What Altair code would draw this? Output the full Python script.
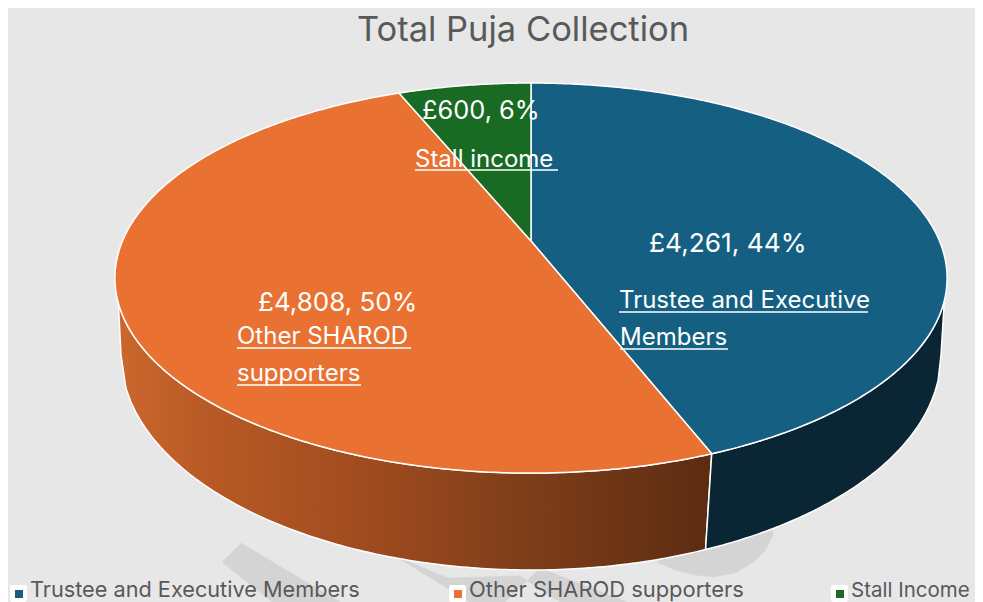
import math
import altair as alt
import pandas as pd

# ---- chart values
categories = ["Trustee and Executive Members", "Other SHAROD supporters", "Stall Income"]
values = [4261, 4808, 600]
colors = ["#156082", "#E97132", "#196B24"]
title_text = "Total Puja Collection"
value_labels = ["£4,261, 44%", "£4,808, 50%", "£600, 6%"]

# ---- pie layout (screen pixels via the fixed scales)
CX, CY = 531, 241        # apex of the tilted pie
A, B, K = 408.5, 188, 0.19
BOT_CY, BOT_A, BOT_B = 355, 410, 215
WALL_TOP_Y = 300

total = sum(values)
cum = [0]
for v in values:
    cum.append(cum[-1] + v)
bounds = [360 * c / total for c in cum]


def top_pt(deg):
    t = math.radians(deg)
    u, v = math.sin(t), -math.cos(t)
    d = 1 - K * v
    return CX + A * u / d, CY + B * v / d


def bot_y(x):
    f = max(0.0, 1 - ((x - CX) / BOT_A) ** 2)
    return BOT_CY + BOT_B * math.sqrt(f)


def arc(a0, a1, step=1.0):
    n = max(2, int(abs(a1 - a0) / step))
    return [top_pt(a0 + (a1 - a0) * i / n) for i in range(n + 1)]


def frame(points):
    return pd.DataFrame({"x": [p[0] for p in points], "y": [p[1] for p in points],
                         "i": list(range(len(points)))})


XS = alt.Scale(domain=[8, 975], range=[0, 967])
YS = alt.Scale(domain=[602, 8], range=[594, 0])
X = alt.X("x:Q", scale=XS, axis=None)
Y = alt.Y("y:Q", scale=YS, axis=None)


def poly(points, fill, stroke="#FFFFFF", sw=1.5):
    kw = dict(fill=fill, strokeWidth=sw, stroke=stroke, strokeJoin="round")
    return alt.Chart(frame(points + [points[0]])).mark_line(**kw).encode(
        x=X, y=Y, order=alt.Order("i:Q"))


# ---- walls
edge_top = top_pt(bounds[1])
edge_bot_x = CX + (edge_top[0] - CX) * 0.966

left_top = [p for p in arc(bounds[1], 300) if p[1] >= WALL_TOP_Y]
left_bottom = [(x, bot_y(x)) for x in [CX - BOT_A + i * (edge_bot_x - CX + BOT_A) / 120 for i in range(121)]]
orange_wall = left_top + left_bottom

right_top = [p for p in arc(bounds[1], 60) if p[1] >= WALL_TOP_Y]
right_bottom = [(x, bot_y(x)) for x in [CX + BOT_A - i * (CX + BOT_A - edge_bot_x) / 80 for i in range(81)]]
dark_wall = right_top + right_bottom

wall_gradient = alt.Gradient(
    gradient="linear", x1=0, x2=1, y1=0, y2=0,
    stops=[alt.GradientStop(color="#CB672E", offset=0),
           alt.GradientStop(color="#B85A25", offset=0.15),
           alt.GradientStop(color="#A04B1F", offset=0.42),
           alt.GradientStop(color="#7F3E1A", offset=0.68),
           alt.GradientStop(color="#5C2C11", offset=1)])

# ---- faint watermark behind the pie
mark_a_x, mark_a_y = [241, 222, 272, 340], [543, 562, 602, 602]
mark_b_x, mark_b_y = [395, 470, 505, 540, 627, 560, 520, 448], [556, 602, 602, 568, 602, 602, 576, 578]
mark_c_x = [657, 675, 695, 713, 735, 752, 765, 773, 770]
mark_c_y = [562, 570, 575, 577, 573, 563, 551, 535, 510]


def wm(xs, ys):
    return poly(list(zip(xs, ys)), "#D4D4D4", "#D4D4D4", 0.5)


layers = [wm(mark_a_x, mark_a_y), wm(mark_b_x, mark_b_y), wm(mark_c_x, mark_c_y),
          poly(orange_wall, wall_gradient), poly(dark_wall, "#0A2635")]

# ---- top sectors
for i, c in enumerate(colors):
    layers.append(poly([(CX, CY)] + arc(bounds[i], bounds[i + 1], 0.5), c))

# ---- labels
label_font = "Inter"
value_x = [649, 258, 422]
value_y = [252, 311, 119]
value_size = [26.3, 26, 25.4]
value_df = pd.DataFrame({"x": value_x, "y": value_y, "t": value_labels, "s": value_size})
layers.append(alt.Chart(value_df).mark_text(
    align="left", baseline="alphabetic", font=label_font, color="#FFFFFF"
).encode(x=X, y=Y, text="t:N", size=alt.Size("s:Q", scale=None, legend=None)))

name_text = ["Trustee and Executive", "Members", "Other SHAROD", "supporters", "Stall income"]
name_x = [619, 620, 237, 237, 415]
name_y = [308, 345, 344, 381, 167]
names = pd.DataFrame({"x": name_x, "y": name_y, "t": name_text})
layers.append(alt.Chart(names).mark_text(
    align="left", baseline="alphabetic", font=label_font, fontSize=24, color="#FFFFFF"
).encode(x=X, y=Y, text="t:N"))

under_x = [619, 620, 237, 237, 415]
under_x2 = [868, 728, 411, 361, 558]
under_y = [312, 349, 348, 385, 170]
under = pd.DataFrame({"x": under_x, "x2": under_x2, "y": under_y})
layers.append(alt.Chart(under).mark_rule(color="#FFFFFF", strokeWidth=1.5).encode(
    x=X, x2="x2:Q", y=Y))

# ---- title
layers.append(alt.Chart(pd.DataFrame({"x": [523], "y": [41], "t": [title_text]})).mark_text(
    align="center", baseline="alphabetic", font=label_font, fontSize=34.5, color="#595959"
).encode(x=X, y=Y, text="t:N"))

# ---- legend
legend_x = [30, 469, 851]
legend_size = [21.7, 21.9, 20.5]
legend_y = 597
legend = pd.DataFrame({"x": legend_x, "y": [legend_y] * 3, "t": categories, "c": colors,
                       "s": legend_size,
                       "bx": [v - 20 for v in legend_x], "bx2": [v - 3 for v in legend_x],
                       "by": [585] * 3, "by2": [602] * 3,
                       "sx": [v - 15 for v in legend_x], "sx2": [v - 7 for v in legend_x],
                       "sy": [590] * 3, "sy2": [598] * 3})
layers.append(alt.Chart(legend).mark_rect(color="#FFFFFF", cornerRadius=2).encode(
    x=alt.X("bx:Q", scale=XS, axis=None), x2="bx2:Q",
    y=alt.Y("by:Q", scale=YS, axis=None), y2="by2:Q"))
layers.append(alt.Chart(legend).mark_rect().encode(
    x=alt.X("sx:Q", scale=XS, axis=None), x2="sx2:Q",
    y=alt.Y("sy:Q", scale=YS, axis=None), y2="sy2:Q",
    color=alt.Color("c:N", scale=None)))
layers.append(alt.Chart(legend).mark_text(
    align="left", baseline="alphabetic", font=label_font, color="#595959"
).encode(x=X, y=Y, text="t:N", size=alt.Size("s:Q", scale=None, legend=None)))

chart = alt.layer(*layers).properties(
    width=967, height=594, padding=0, background="#E7E7E7",
    autosize=alt.AutoSizeParams(type="none"),
).configure_view(stroke=None)

chart.save("out.html", embed_options={"renderer": "svg", "actions": False})
